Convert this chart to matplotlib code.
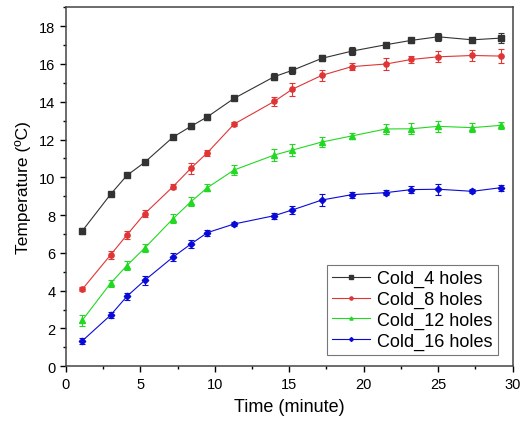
import matplotlib
matplotlib.use("Agg")
import matplotlib.pyplot as plt
from matplotlib.ticker import MultipleLocator

plt.rcParams['font.family'] = ['Liberation Sans', 'DejaVu Sans']

time = [1.1, 3.0, 4.1, 5.3, 7.2, 8.4, 9.5, 11.3, 14.0, 15.2, 17.2, 19.2, 21.5, 23.2, 25.0, 27.3, 29.2]

t4 = [7.16, 9.1, 10.1, 10.8, 12.13, 12.7, 13.2, 14.18, 15.33, 15.66, 16.3, 16.68, 17.02, 17.25, 17.44, 17.28, 17.37]
t8 = [4.07, 5.89, 6.95, 8.08, 9.51, 10.48, 11.3, 12.82, 14.02, 14.66, 15.4, 15.86, 16.0, 16.24, 16.38, 16.45, 16.42]
t12 = [2.43, 4.39, 5.33, 6.26, 7.81, 8.71, 9.45, 10.39, 11.18, 11.44, 11.87, 12.19, 12.56, 12.57, 12.7, 12.63, 12.75]
t16 = [1.34, 2.7, 3.7, 4.55, 5.78, 6.47, 7.07, 7.53, 7.97, 8.27, 8.8, 9.08, 9.19, 9.35, 9.37, 9.26, 9.45]

e4 = [0.15, 0.1, 0.1, 0.1, 0.1, 0.15, 0.15, 0.1, 0.2, 0.2, 0.15, 0.2, 0.1, 0.15, 0.2, 0.1, 0.25]
e8 = [0.1, 0.2, 0.2, 0.2, 0.15, 0.3, 0.15, 0.1, 0.25, 0.35, 0.3, 0.2, 0.3, 0.2, 0.3, 0.3, 0.35]
e12 = [0.3, 0.2, 0.25, 0.2, 0.25, 0.25, 0.2, 0.25, 0.3, 0.3, 0.25, 0.15, 0.25, 0.3, 0.3, 0.25, 0.2]
e16 = [0.15, 0.15, 0.2, 0.25, 0.2, 0.2, 0.15, 0.1, 0.15, 0.2, 0.3, 0.15, 0.15, 0.2, 0.3, 0.1, 0.15]

labels = ['Cold_4 holes', 'Cold_8 holes', 'Cold_12 holes', 'Cold_16 holes']
colors = ['#333333', '#e03535', '#22d822', '#0a0ad8']
markers = ['s', 'o', '^', 'D']

fig = plt.figure(figsize=(5.27, 4.27), dpi=100)
ax = fig.add_axes([0.125, 0.14, 0.8475, 0.8405])

handles = []
for y, e, lab, c, m in zip([t4, t8, t12, t16], [e4, e8, e12, e16], labels, colors, markers):
    ms = 3.3 if m == 'D' else 3.8
    cont = ax.errorbar(time, y, yerr=e, color=c, marker=m, markersize=ms, linewidth=0.8,
                       elinewidth=0.8, capsize=2.5, capthick=0.8, label=lab)
    handles.append(cont.lines[0])

ax.set_xlim(0, 30)
ax.set_ylim(0, 19)
ax.xaxis.set_major_locator(MultipleLocator(5))
ax.xaxis.set_minor_locator(MultipleLocator(2.5))
ax.yaxis.set_major_locator(MultipleLocator(2))
ax.yaxis.set_minor_locator(MultipleLocator(1))
ax.tick_params(which='major', direction='out', length=4, width=1, labelsize=10.5)
ax.tick_params(which='minor', direction='out', length=2.5, width=1)
for s in ax.spines.values():
    s.set_linewidth(1.1)
    s.set_color('#444444')

ax.set_xlabel('Time (minute)', fontsize=13, labelpad=5)
ax.set_ylabel('Temperature (ºC)', fontsize=12.5, labelpad=6)

leg = ax.legend(handles, labels, loc='lower right', bbox_to_anchor=(0.968, 0.031),
                borderaxespad=0, fontsize=13, frameon=True, fancybox=False,
                edgecolor='#555555', handlelength=2.1, handletextpad=0.4,
                labelspacing=0.2, borderpad=0.3, markerscale=0.6)
leg.get_frame().set_linewidth(0.8)

fig.savefig('out.png', dpi=100)
